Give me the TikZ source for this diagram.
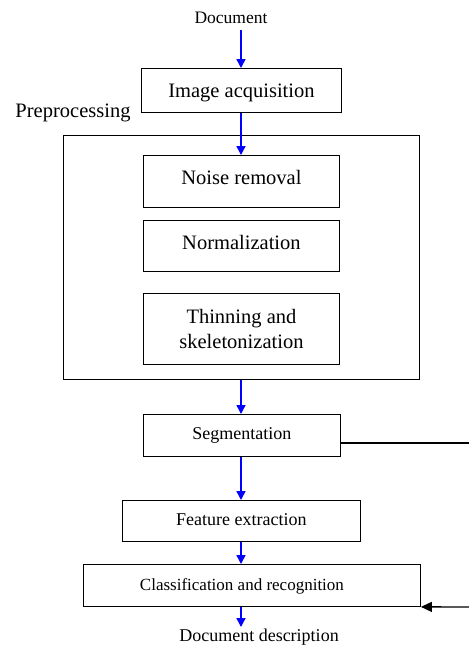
\documentclass[tikz,border=0pt]{standalone}
\usepackage{fontspec}
\setmainfont{Liberation Serif}
\usetikzlibrary{arrows.meta}
\begin{document}
\begin{tikzpicture}[x=1pt,y=-1pt,
  box/.style={draw=black,line width=0.9pt,inner sep=0pt,anchor=north west},
  flow/.style={draw=blue,line width=1.4pt,-{Triangle[length=9pt,width=9pt]}},
  fb/.style={draw=black,line width=1.4pt},
  lbl/.style={inner sep=0pt},
  big/.style={font=\fontsize{20.5}{25}\selectfont},
  small/.style={font=\fontsize{18}{21}\selectfont}]
\useasboundingbox (0,0) rectangle (469,646);
\node[lbl,font=\fontsize{17.5}{20}\selectfont] (doc) at (231,18) {Document};
\node[box,minimum width=200pt,minimum height=44pt] (img) at (141,68) {};
\node[lbl,big] at ([yshift=-2pt]img.center) {Image acquisition};
\node[lbl,big] (pre) at (73,113) {Preprocessing};
\node[box,minimum width=356pt,minimum height=244pt] (bigbox) at (63,135) {};
\node[box,minimum width=196pt,minimum height=52pt] (noise) at (143,155) {};
\node[lbl,big] at ([yshift=4pt]noise.center) {Noise removal};
\node[box,minimum width=196pt,minimum height=51pt] (norm) at (143,220) {};
\node[lbl,big] at ([yshift=3pt]norm.center) {Normalization};
\node[box,minimum width=196pt,minimum height=71pt] (thin) at (143,293) {};
\node[lbl,big,align=center] at (thin.center) {Thinning and\\skeletonization};
\node[box,minimum width=197pt,minimum height=42pt] (seg) at (143,414) {};
\node[lbl,small] at (seg.center) {Segmentation};
\node[box,minimum width=238pt,minimum height=41pt] (feat) at (122,500) {};
\node[lbl,small] at ([yshift=1pt]feat.center) {Feature extraction};
\node[box,minimum width=337pt,minimum height=42pt] (cls) at (83,564) {};
\node[lbl,font=\fontsize{17}{20}\selectfont] at ([xshift=-10pt,yshift=-1pt]cls.center) {Classification and recognition};
\node[lbl,small] (desc) at (259,637) {Document description};
\coordinate (r1) at (469,443);
\coordinate (r2) at (469,607);
\draw[flow] (241,30) -- (img.north -| 241,0);
\draw[flow] (img.south -| 241,0) -- (noise.north -| 241,0);
\draw[flow] (bigbox.south -| 241,0) -- (seg.north -| 241,0);
\draw[flow] (seg.south -| 241,0) -- (feat.north -| 241,0);
\draw[flow] (feat.south -| 241,0) -- (cls.north -| 241,0);
\draw[flow] (cls.south -| 241,0) -- (241,627);
\draw[fb] (seg.east |- r1) -- (r1);
\draw[fb,-{Triangle[length=11pt,width=10pt]}] (r2) -- (cls.south east);
\end{tikzpicture}
\end{document}
